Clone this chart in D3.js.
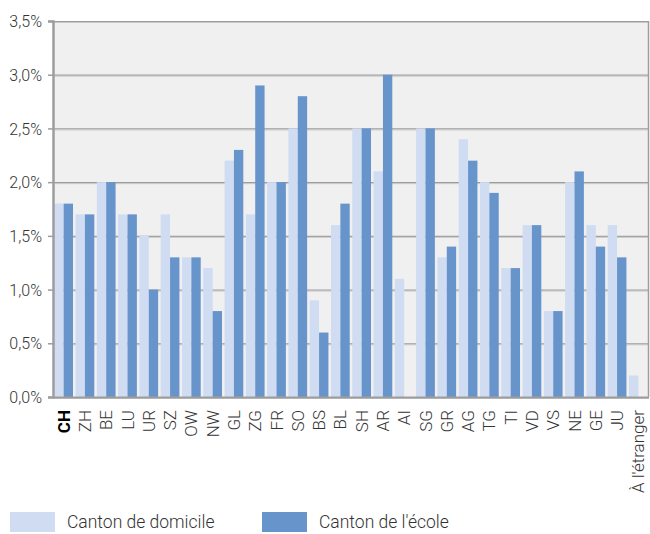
<!DOCTYPE html>
<html>
<head>
<meta charset="utf-8">
<script src="https://cdn.jsdelivr.net/npm/d3@7"></script>
<style>
  html, body { margin: 0; padding: 0; background: #ffffff; }
  svg { display: block; }
  text { font-family: Roboto, "Noto Sans", sans-serif; }
</style>
</head>
<body>
<svg id="chart" width="650" height="534"></svg>
<script>
// Cantons, in the order shown on the x axis
const cantons = ["CH","ZH","BE","LU","UR","SZ","OW","NW","GL","ZG","FR","SO","BS","BL","SH","AR","AI","SG","GR","AG","TG","TI","VD","VS","NE","GE","JU","À l'étranger"];

// Share (%) by canton of residence
const domicile = [1.8,1.7,2.0,1.7,1.5,1.7,1.3,1.2,2.2,1.7,2.0,2.5,0.9,1.6,2.5,2.1,1.1,2.5,1.3,2.4,2.0,1.2,1.6,0.8,2.0,1.6,1.6,0.2];

// Share (%) by canton of the school
const ecole = [1.8,1.7,2.0,1.7,1.0,1.3,1.3,0.8,2.3,2.9,2.0,2.8,0.6,1.8,2.5,3.0,null,2.5,1.4,2.2,1.9,1.2,1.6,0.8,2.1,1.4,1.3,null];

const yTicks = [0,0.5,1.0,1.5,2.0,2.5,3.0,3.5];
const seriesNames = ["Canton de domicile","Canton de l'école"];
const colors = ["#cfdcf1","#6894cc"];

const svg = d3.select("#chart");
const m = {left: 53, right: 1, top: 21, bottom: 137};
const W = 650, H = 534;
const x0 = m.left, x1 = W - m.right, y0 = H - m.bottom, y1 = m.top;

const x = d3.scaleBand().domain(cantons).range([x0, x1]).paddingInner(0.12).paddingOuter(0.06);
const xs = d3.scaleBand().domain([0,1]).range([0, x.bandwidth()]);
const y = d3.scaleLinear().domain([0, 3.5]).range([y0, y1]);

// plot background
svg.append("rect").attr("x", x0).attr("y", y1).attr("width", x1 - x0).attr("height", y0 - y1).attr("fill", "#f0f0f0");

// horizontal grid
const grid = svg.append("g");
grid.selectAll("line.g1").data(yTicks).join("line")
  .attr("x1", x0).attr("x2", x1)
  .attr("y1", d => y(d) + 0.5).attr("y2", d => y(d) + 0.5)
  .attr("stroke", "#9d9d9d").attr("stroke-width", 1.2);
grid.selectAll("line.g2").data(yTicks).join("line")
  .attr("x1", x0).attr("x2", x1)
  .attr("y1", d => y(d) + 1.5).attr("y2", d => y(d) + 1.5)
  .attr("stroke", "#c8c8c8").attr("stroke-width", 1);

// bars
const series = [domicile, ecole];
series.forEach((vals, si) => {
  svg.append("g").selectAll("rect").data(cantons.map((c, i) => ({c, v: vals[i]})).filter(d => d.v != null))
    .join("rect")
    .attr("x", d => x(d.c) + xs(si))
    .attr("width", xs.bandwidth())
    .attr("y", d => y(d.v))
    .attr("height", d => y(0) - y(d.v))
    .attr("fill", colors[si]);
});

// baseline, left axis and right border
svg.append("line").attr("x1", x0).attr("x2", x1).attr("y1", y0 + 0.5).attr("y2", y0 + 0.5).attr("stroke", "#9d9d9d").attr("stroke-width", 2);
svg.append("line").attr("x1", x1 - 0.5).attr("x2", x1 - 0.5).attr("y1", y1).attr("y2", y0).attr("stroke", "#9d9d9d").attr("stroke-width", 1.5);

const yAxis = d3.axisLeft(y).tickValues(yTicks).tickSize(5).tickPadding(6)
  .tickFormat(d => d.toFixed(1).replace(".", ",") + "%");
const ya = svg.append("g").attr("transform", `translate(${x0},0)`).call(yAxis);
ya.select(".domain").attr("stroke", "#9d9d9d").attr("stroke-width", 2.5);
ya.selectAll(".tick line").attr("stroke", "#9d9d9d").attr("stroke-width", 1.5);
ya.selectAll(".tick text").attr("fill", "#333").style("font-size", "16px").style("font-weight", 300)
  .style("font-family", "Roboto, sans-serif").attr("dy", "0.35em");

// x labels, rotated
const xa = svg.append("g");
xa.selectAll("text").data(cantons).join("text")
  .attr("transform", d => `translate(${x(d) + x.bandwidth() / 2 + 6},${y0 + 13}) rotate(-90)`)
  .attr("text-anchor", "end")
  .attr("fill", d => d === "CH" ? "#000" : "#333")
  .style("font-size", "17px")
  .style("font-weight", d => d === "CH" ? 700 : 300)
  .text(d => d);

// legend
const lg = svg.append("g");
const legendX = [10, 262];
seriesNames.forEach((name, i) => {
  lg.append("rect").attr("x", legendX[i]).attr("y", 512).attr("width", 45).attr("height", 20).attr("fill", colors[i]);
  lg.append("text").attr("x", legendX[i] + 57).attr("y", 528)
    .attr("fill", "#333").style("font-size", "17.5px").style("font-weight", 300).text(name);
});
</script>
</body>
</html>
